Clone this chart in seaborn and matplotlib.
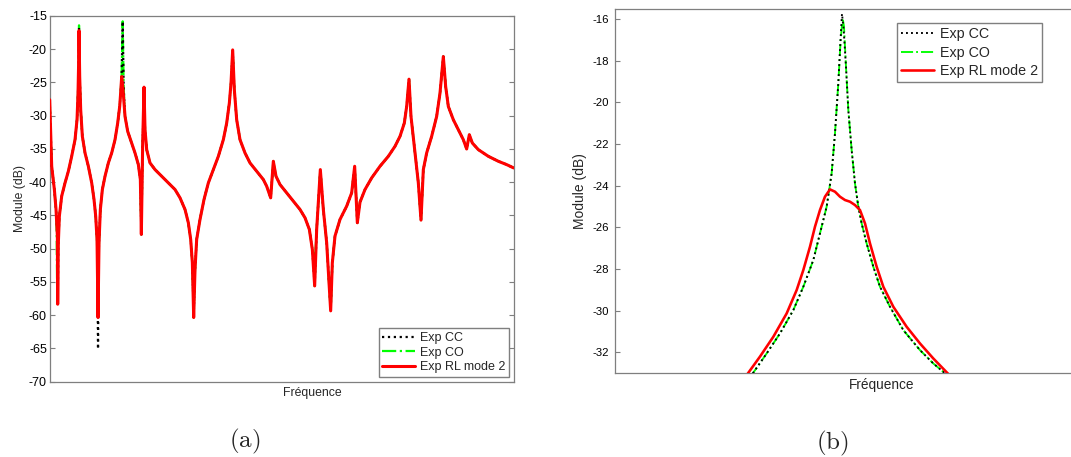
import numpy as np
import pandas as pd
import matplotlib
matplotlib.use("Agg")
import matplotlib.pyplot as plt
import seaborn as sns

# =========================================================================
# DATA (arbitrary frequency units)
# =========================================================================
# (a) full band - RL curve, CO / CC coincide with it except a few peaks/dips
freq_a = [0, 6, 14, 19, 23, 24, 26, 29, 36, 46, 56, 66, 76, 82, 85, 87, 88, 90, 93, 98,
          106, 116, 126, 133, 138, 142, 145, 148, 152, 158, 166, 176, 186, 196, 204, 210,
          213, 216, 220, 226, 234, 244, 256, 266, 272, 275, 279, 283, 286, 291, 301, 316,
          336, 356, 376, 391, 406, 416, 423, 428, 432, 436, 441, 451, 463, 476, 491, 506,
          521, 531, 539, 544, 549, 554, 561, 571, 586, 601, 621, 641, 651, 663, 671, 679,
          691, 711, 731, 751, 766, 779, 788, 795, 801, 812, 821, 831, 843, 848, 856, 871,
          891, 906, 915, 923, 931, 946, 966, 991, 1016, 1036, 1051, 1064, 1071, 1078, 1084,
          1096, 1106, 1114, 1121, 1131, 1146, 1161, 1171, 1181, 1188, 1196, 1211, 1226, 1241,
          1251, 1259, 1268, 1286, 1316, 1346, 1371, 1392]
module_rl_a = [-27.6, -37.6, -41.1, -44.1, -48.1, -58.35, -49.1, -45.1, -42.1, -40.1, -38.35,
               -36.1, -33.6, -30.6, -26.6, -21.6, -17.2, -24.1, -29.1, -33.1, -35.6, -37.6,
               -40.1, -42.6, -45.1, -48.6, -60.35, -49.1, -44.1, -41.1, -39.1, -37.1, -35.6,
               -33.6, -31.1, -28.6, -26.5, -24.1, -26.1, -30.1, -32.35, -33.85, -35.6, -37.35,
               -39.6, -47.85, -34.1, -25.7, -32.1, -35.1, -37.1, -38.1, -39.1, -40.1, -41.1,
               -42.35, -44.1, -46.1, -48.6, -52.1, -60.35, -53.1, -48.6, -45.6, -42.6, -40.1,
               -38.1, -36.1, -33.6, -31.1, -28.1, -25.1, -20.1, -26.1, -30.6, -33.6, -35.6,
               -37.1, -38.35, -39.6, -40.6, -42.35, -36.85, -39.1, -40.35, -41.6, -42.85,
               -44.1, -45.35, -47.1, -50.1, -55.6, -47.1, -38.1, -44.1, -49.1, -59.35, -52.1,
               -48.1, -45.6, -43.6, -41.6, -37.6, -46.1, -43.0, -41.1, -39.35, -37.6, -36.1,
               -34.6, -33.1, -31.1, -28.6, -24.5, -30.1, -35.6, -40.1, -45.7, -38.1, -35.6,
               -33.1, -30.1, -26.6, -21.1, -25.6, -28.6, -30.6, -32.1, -33.6, -35.0, -32.85,
               -34.1, -35.1, -36.1, -36.85, -37.35, -37.85]

# local pieces where CO / CC leave the RL curve
co_patch_freq = [[21, 22.5, 25], [87, 88, 89], [216, 218, 219, 220, 222], [793, 795, 797]]
co_patch_module = [[-47.5, -57.6, -49.5], [-21.6, -16.4, -22.0],
                   [-23.5, -18.5, -15.8, -19.5, -25.8], [-51.0, -55.9, -51.0]]
cc_patch_freq = [[87, 88, 89], [216, 218, 219, 220, 222], [143, 145, 147]]
cc_patch_module = [[-21.6, -16.8, -22.0], [-23.5, -18.5, -15.8, -19.5, -25.8],
                   [-52.0, -65.1, -52.0]]

# (b) zoom on the second mode
freq_rl_b = [390, 435, 475, 515, 545, 565, 585, 600, 615, 630, 645, 660, 675, 690, 705, 720,
             735, 750, 765, 785, 805, 835, 875, 915, 955, 1010]
module_rl_b = [-33.2, -32.2, -31.25, -30.13, -29.01, -28.05, -26.93, -25.97, -25.17, -24.53,
               -24.18, -24.29, -24.53, -24.69, -24.77, -24.93, -25.17, -25.81, -26.77, -27.89,
               -28.85, -29.81, -30.77, -31.57, -32.29, -33.2]
freq_co_b = [405, 455, 495, 535, 565, 595, 615, 635, 650, 660, 670, 677, 683, 687, 693, 700,
             710, 720, 730, 740, 755, 775, 795, 825, 865, 915, 955, 1005]
module_co_b = [-33.2, -32.05, -31.09, -29.97, -28.85, -27.57, -26.29, -25.01, -23.41, -21.49,
               -19.09, -17.01, -15.97, -16.37, -18.29, -20.37, -22.29, -23.89, -25.01, -25.81,
               -26.77, -27.89, -28.85, -29.81, -30.93, -31.89, -32.53, -33.2]
freq_cc_b = [405, 455, 495, 535, 565, 595, 615, 635, 650, 660, 670, 676, 681, 686, 693, 700,
             710, 720, 730, 740, 755, 775, 795, 825, 865, 915, 955, 1005]
module_cc_b = [-33.2, -32.05, -31.09, -29.97, -28.85, -27.57, -26.29, -25.01, -23.41, -21.49,
               -19.09, -17.2, -15.76, -16.5, -18.29, -20.37, -22.29, -23.89, -25.01, -25.81,
               -26.77, -27.89, -28.85, -29.81, -30.93, -31.89, -32.53, -33.2]

labels = ["Exp CC", "Exp CO", "Exp RL mode 2"]
yticks_a = list(range(-70, -14, 5))
yticks_b = list(range(-32, -15, 2))


def splice(freq, base, patches_f, patches_m):
    df = pd.DataFrame({"freq": freq, "module": base})
    for pf, pm in zip(patches_f, patches_m):
        df = df[(df.freq < min(pf)) | (df.freq > max(pf))]
        df = pd.concat([df, pd.DataFrame({"freq": pf, "module": pm})])
    return df.sort_values("freq").reset_index(drop=True)


df_rl_a = pd.DataFrame({"freq": freq_a, "module": module_rl_a})
df_co_a = splice(freq_a, module_rl_a, co_patch_freq, co_patch_module)
df_cc_a = splice(freq_a, module_rl_a, cc_patch_freq, cc_patch_module)

# =========================================================================
# PLOT
# =========================================================================
sns.set_theme(style="white")
plt.rcParams["font.family"] = ["Liberation Sans", "DejaVu Sans"]
plt.rcParams["mathtext.fontset"] = "cm"
plt.rcParams["axes.unicode_minus"] = False

fig = plt.figure(figsize=(10.71, 4.57), dpi=100)
ax_a = fig.add_axes([0.0464, 0.1648, 0.4332, 0.8002])
ax_b = fig.add_axes([0.5742, 0.1832, 0.4977, 0.7965])

styles = [dict(color="black", linestyle=":", lw=1.6, zorder=3),
          dict(color=(0, 1, 0), linestyle="-.", lw=1.6, zorder=2),
          dict(color="red", linestyle="-", lw=2.2, zorder=4)]

for df, lab, st in zip([df_cc_a, df_co_a, df_rl_a], labels, styles):
    sns.lineplot(data=df, x="freq", y="module", ax=ax_a, label=lab,
                 estimator=None, sort=False, **st)

data_b = [(freq_cc_b, module_cc_b), (freq_co_b, module_co_b), (freq_rl_b, module_rl_b)]
for (f, m), lab, st in zip(data_b, labels, styles):
    st_b = dict(st)
    st_b["lw"] = st["lw"] * 0.85
    sns.lineplot(x=f, y=m, ax=ax_b, label=lab, estimator=None, sort=False, **st_b)

spine_col = "#7f7f7f"
for ax in (ax_a, ax_b):
    ax.set_xticks([])
    for s in ax.spines.values():
        s.set_visible(True)
        s.set_color(spine_col)
        s.set_linewidth(0.9)
    ax.tick_params(axis="y", direction="in", length=3.6, width=0.8, color=spine_col,
                   left=True, right=True, labelcolor="black", pad=2)

ax_a.set_xlim(0, 1392)
ax_a.set_ylim(-70, -15)
ax_a.set_yticks(yticks_a)
ax_a.tick_params(axis="y", labelsize=9)
ax_a.set_ylabel("Module (dB)", fontsize=8.8, labelpad=2)
ax_a.set_xlabel("Fréquence", fontsize=8.8)
ax_a.xaxis.set_label_coords(0.567, -0.031)
ax_a.xaxis.label.set_va("center")
ax_a.legend(loc="lower right", bbox_to_anchor=(0.99, 0.013), borderaxespad=0,
            fontsize=9, frameon=True, fancybox=False, edgecolor=spine_col,
            framealpha=1, borderpad=0.3, labelspacing=0.2, handlelength=2.6,
            handletextpad=0.4)

ax_b.set_xlim(0, 1599)
ax_b.set_ylim(-33, -15.54)
ax_b.set_yticks(yticks_b)
ax_b.tick_params(axis="y", labelsize=8.2, pad=4)
ax_b.set_ylabel("Module (dB)", fontsize=10, labelpad=4)
ax_b.set_xlabel("Fréquence", fontsize=9.8)
ax_b.xaxis.set_label_coords(0.5, -0.032)
ax_b.xaxis.label.set_va("center")
ax_b.legend(loc="upper left", bbox_to_anchor=(0.529, 0.962), borderaxespad=0,
            fontsize=10.3, frameon=True, fancybox=False, edgecolor=spine_col,
            framealpha=1, borderpad=0.3, labelspacing=0.3, handlelength=2.3,
            handletextpad=0.4)

fig.text(245 / 1071, 1 - 441 / 457, r"$\mathrm{(a)}$", ha="center", va="center", fontsize=18)
fig.text(832 / 1071, 1 - 443 / 457, r"$\mathrm{(b)}$", ha="center", va="center", fontsize=18)

plt.savefig("out.png", dpi=100)
plt.close()
